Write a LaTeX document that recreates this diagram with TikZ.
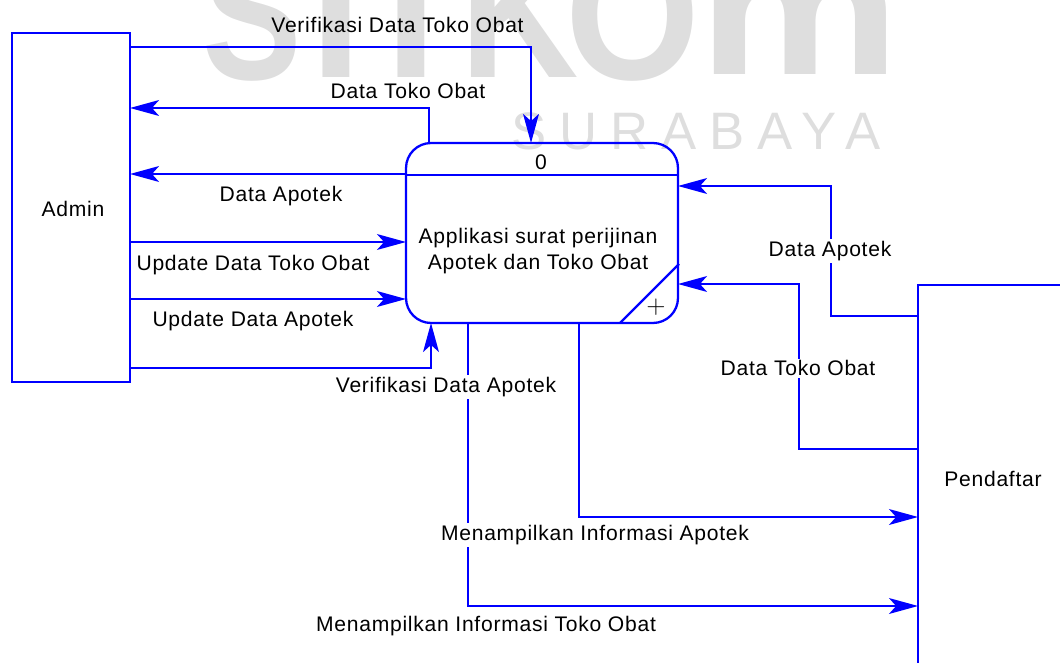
\documentclass[tikz,border=0pt]{standalone}
\usepackage{fontspec}
\setmainfont[LetterSpace=3.5]{Liberation Sans}
\newfontfamily\capfont{Liberation Sans}
\usetikzlibrary{arrows.meta}
\definecolor{capgray}{HTML}{DEDEDE}
\tikzset{
	>={Stealth[length=16.5pt,width=9pt,inset=4pt]},
	entitas/.style={
		rectangle,
		draw=blue,
		line width=1.3pt,
		outer sep=0pt,
		inner sep=0pt},
	proses/.style={
		entitas,
		rounded corners=.5cm,
		minimum width=5.44cm,
		minimum height=3.6cm},
	garis/.style={draw=blue, line width=1.3pt},
	aliran/.style={garis, ->},
	teks/.style={
		font=\fontsize{12}{14.8}\selectfont,
		align=center,
		inner sep=1pt},
	teksputih/.style={teks, fill=white},
	caphuruf/.style={
		font=\capfont\bfseries\fontsize{106}{106}\selectfont,
		text=capgray,
		anchor=base,
		inner sep=0pt},
}

\begin{document}
\begin{tikzpicture}
			[x=.02cm,y=-.02cm]
			\useasboundingbox (0,0) rectangle (1060,662);
			\clip (0,0) rectangle (1060,662);
			% cap latar
			\node[caphuruf, xscale=.8] (capS) at (252,80) {S};
			\node[caphuruf] (capT) at (336,78) {T};
			\node[caphuruf] (capI) at (411,78) {I};
			\node[caphuruf, xscale=.88] (capK) at (520,78) {K};
			\node[caphuruf, xscale=.93] (capO) at (633,80) {O};
			\node[caphuruf, xscale=1.22] (capM) at (799,75) {m};
			\node[font=\capfont\addfontfeature{LetterSpace=24.5}\fontsize{30}{30}\selectfont, text=capgray, inner sep=0pt] (capbawah) at (696,131) {SURABAYA};
			% entitas dan proses
			\node[entitas, minimum width=2.36cm, minimum height=6.98cm] (admin) at (71,207.5) {};
			\node[proses] (aplikasi) at (542,233) {};
			\node[entitas, minimum width=10cm, minimum height=12cm] (pendaftar) at (1168,585) {};
			\node[teks] (adminteks) at (73,209) {Admin};
			\node[teks] (nol) at (541,162) {0};
			\node[teks] (aplikasiteks) at (538,251) {Applikasi surat perijinan\\ Apotek dan Toko Obat};
			\node[teks] (pendaftarteks) at (993,479) {Pendaftar};
			\node[font=\fontsize{15}{15}\selectfont, inner sep=0pt] (plus) at (656,307) {$+$};
			\draw[garis] (aplikasi.west |- 0,175) -- (aplikasi.east |- 0,175);
			\draw[garis] (aplikasi.south -| 620,0) -- (679,264);
			% aliran admin
			\draw[aliran] (admin.east |- 0,47) -| (aplikasi.north -| 531,0);
			\draw[aliran] (aplikasi.north -| 429,0) |- (admin.east |- 0,108);
			\draw[aliran] (aplikasi.west |- 0,174) -- (admin.east |- 0,174);
			\draw[aliran] (admin.east |- 0,242) -- (aplikasi.west |- 0,242);
			\draw[aliran] (admin.east |- 0,299) -- (aplikasi.west |- 0,299);
			\draw[aliran] (admin.east |- 0,368) -| (aplikasi.south -| 431,0);
			% aliran pendaftar
			\draw[aliran] (pendaftar.west |- 0,316) -- ++(-87,0) |- (aplikasi.east |- 0,186);
			\draw[aliran] (pendaftar.west |- 0,449) -- ++(-119,0) |- (aplikasi.east |- 0,284);
			\draw[aliran] (aplikasi.south -| 579,0) |- (pendaftar.west |- 0,517);
			\draw[aliran] (aplikasi.south -| 468,0) |- (pendaftar.west |- 0,606);
			% label
			\node[teks] (verif1) at (397.5,25) {Verifikasi Data Toko Obat};
			\node[teks] (datatoko1) at (408,91) {Data Toko Obat};
			\node[teks] (apotek1) at (281,196) {Data Apotek};
			\node[teks] (update1) at (253,265) {Update Data Toko Obat};
			\node[teks] (update2) at (253,321) {Update Data Apotek};
			\node[teksputih] (verif2) at (446,387) {Verifikasi Data Apotek};
			\node[teksputih] (apotek2) at (830,251) {Data Apotek};
			\node[teksputih] (datatoko2) at (798,368) {Data Toko Obat};
			\node[teksputih] (info1) at (595,535) {Menampilkan Informasi Apotek};
			\node[teks] (info2) at (486,626) {Menampilkan Informasi Toko Obat};
\end{tikzpicture}
\end{document}
